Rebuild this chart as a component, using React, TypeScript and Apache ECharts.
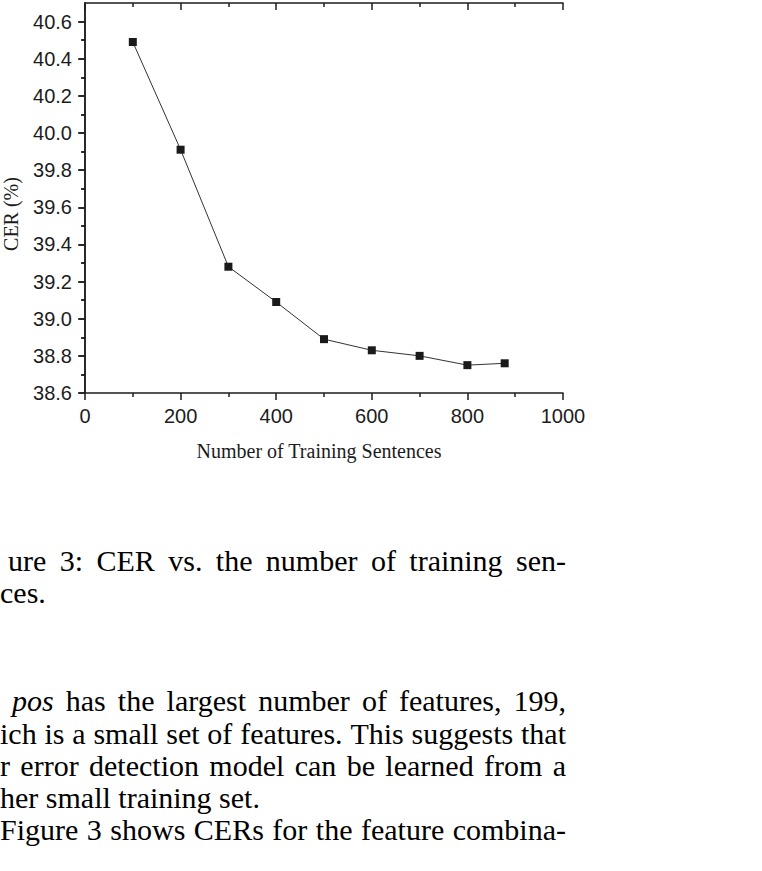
import React, { useEffect, useRef } from "react";
import * as echarts from "echarts";

// ---- data ----
const sentences = [100, 200, 300, 400, 500, 600, 700, 800, 878];
const cer = [40.49, 39.91, 39.28, 39.09, 38.89, 38.83, 38.8, 38.75, 38.76];
const xMajorTicks = [0, 200, 400, 600, 800, 1000];
const xMinorTicks = [100, 300, 500, 700, 900];
const yMajorTicks = [38.6, 38.8, 39.0, 39.2, 39.4, 39.6, 39.8, 40.0, 40.2, 40.4, 40.6];
const yMinorTicks = [38.7, 38.9, 39.1, 39.3, 39.5, 39.7, 39.9, 40.1, 40.3, 40.5];
const xTitle = "Number of Training Sentences";
const yTitle = "CER (%)";

type Word = { t: string; italic?: boolean };
type Line = { words: Word[]; left: number; right: number | null; y: number };

const w = (s: string): Word[] => s.split(" ").filter((x) => x.length).map((t) => ({ t }));

const captionLines: Line[] = [
  { words: w("ure 3: CER vs. the number of training sen-"), left: 8, right: 566, y: 560 },
  { words: w("ces."), left: 0, right: null, y: 592 },
];
const paragraphLines: Line[] = [
  { words: [{ t: "pos", italic: true }, ...w("has the largest number of features, 199,")], left: 12, right: 566, y: 700 },
  { words: w("ich is a small set of features. This suggests that"), left: 0, right: 566, y: 733 },
  { words: w("r error detection model can be learned from a"), left: 0, right: 566, y: 765 },
  { words: w("her small training set."), left: 0, right: null, y: 797 },
  { words: w("Figure 3 shows CERs for the feature combina-"), left: 0, right: 566, y: 829 },
];

const SERIF = "Liberation Serif";
const SANS = "Liberation Sans";
const INK = "#1c1c1c";
const BODY_SIZE = 30;

function measure(ctx: CanvasRenderingContext2D, word: Word, size: number) {
  ctx.font = `${word.italic ? "italic " : ""}${size}px "${SERIF}"`;
  return ctx.measureText(word.t).width;
}

function buildLine(ctx: CanvasRenderingContext2D, line: Line, size: number) {
  const widths = line.words.map((wd) => measure(ctx, wd, size));
  const spaceW = measure(ctx, { t: " " }, size);
  const total = widths.reduce((a, b) => a + b, 0);
  const n = line.words.length;
  const gap = line.right !== null && n > 1 ? (line.right - line.left - total) / (n - 1) : spaceW;
  const els: any[] = [];
  let x = line.left;
  line.words.forEach((wd, i) => {
    els.push({
      type: "text",
      x,
      y: line.y,
      silent: true,
      style: {
        text: wd.t,
        fill: "#000",
        font: `${wd.italic ? "italic " : ""}${size}px "${SERIF}"`,
        textAlign: "left",
        textVerticalAlign: "middle",
      },
    });
    x += widths[i] + gap;
  });
  return els;
}

const axisLineStyle = { color: INK, width: 1.5 };

export default function App() {
  const ref = useRef<HTMLDivElement>(null);
  useEffect(() => {
    document.body.style.margin = "0";
    if (!ref.current) return;
    const chart = echarts.init(ref.current, null, { renderer: "svg" });
    const canvas = document.createElement("canvas");
    const ctx = canvas.getContext("2d") as CanvasRenderingContext2D;

    const textEls: any[] = [];
    [...captionLines, ...paragraphLines].forEach((l) => textEls.push(...buildLine(ctx, l, BODY_SIZE)));

    const common = { type: "value", splitLine: { show: false } } as any;

    const xBase = { ...common, min: 0, max: 1000 };
    const yBase = { ...common, min: 38.6, max: 40.7 };

    chart.setOption({
      animation: false,
      backgroundColor: "#fff",
      grid: { left: 85, top: 3, width: 478, height: 390, containLabel: false },
      xAxis: [
        {
          ...xBase,
          position: "bottom",
          axisLine: { show: true, lineStyle: axisLineStyle },
          axisTick: { show: true, customValues: xMajorTicks, length: 7, lineStyle: axisLineStyle },
          axisLabel: {
            show: true,
            customValues: xMajorTicks,
            formatter: (v: number) => String(v),
            fontSize: 20,
            fontFamily: SANS,
            color: INK,
            margin: 13,
          },
        },
        {
          ...xBase,
          position: "bottom",
          axisLine: { show: false },
          axisTick: { show: true, customValues: xMinorTicks, length: 4, lineStyle: axisLineStyle },
          axisLabel: { show: false },
        },
        {
          ...xBase,
          position: "top",
          axisLine: { show: true, lineStyle: axisLineStyle },
          axisTick: { show: true, inside: true, customValues: xMajorTicks, length: 7, lineStyle: axisLineStyle },
          axisLabel: { show: false },
        },
        {
          ...xBase,
          position: "top",
          axisLine: { show: false },
          axisTick: { show: true, inside: true, customValues: xMinorTicks, length: 4, lineStyle: axisLineStyle },
          axisLabel: { show: false },
        },
      ],
      yAxis: [
        {
          ...yBase,
          position: "left",
          axisLine: { show: true, lineStyle: axisLineStyle },
          axisTick: { show: true, customValues: yMajorTicks, length: 6, lineStyle: axisLineStyle },
          axisLabel: {
            show: true,
            customValues: yMajorTicks,
            formatter: (v: number) => v.toFixed(1),
            fontSize: 20,
            fontFamily: SANS,
            color: INK,
            margin: 13,
          },
        },
        {
          ...yBase,
          position: "left",
          axisLine: { show: false },
          axisTick: { show: true, customValues: yMinorTicks, length: 3.5, lineStyle: axisLineStyle },
          axisLabel: { show: false },
        },
        {
          ...yBase,
          position: "right",
          axisLine: { show: true, lineStyle: axisLineStyle },
          axisTick: { show: true, inside: true, customValues: yMajorTicks, length: 7, lineStyle: axisLineStyle },
          axisLabel: { show: false },
        },
        {
          ...yBase,
          position: "right",
          axisLine: { show: false },
          axisTick: { show: true, inside: true, customValues: yMinorTicks, length: 4, lineStyle: axisLineStyle },
          axisLabel: { show: false },
        },
      ],
      series: [
        {
          type: "line",
          xAxisIndex: 0,
          yAxisIndex: 0,
          data: sentences.map((s, i) => [s, cer[i]]),
          symbol: "rect",
          symbolSize: 8,
          showAllSymbol: true,
          itemStyle: { color: "#1a1a1a", borderWidth: 0 },
          lineStyle: { color: "#333", width: 1 },
          emphasis: { disabled: true },
          z: 5,
        },
      ],
      graphic: [
        {
          type: "text",
          x: 319,
          y: 451,
          silent: true,
          style: {
            text: xTitle,
            fill: INK,
            font: `20px "${SERIF}"`,
            textAlign: "center",
            textVerticalAlign: "middle",
          },
        },
        {
          type: "text",
          x: 11,
          y: 214,
          rotation: Math.PI / 2,
          silent: true,
          style: {
            text: yTitle,
            fill: INK,
            font: `20px "${SERIF}"`,
            textAlign: "center",
            textVerticalAlign: "middle",
          },
        },
        ...textEls,
      ],
    });
    return () => chart.dispose();
  }, []);
  return <div ref={ref} style={{ width: 762, height: 871 }} />;
}
